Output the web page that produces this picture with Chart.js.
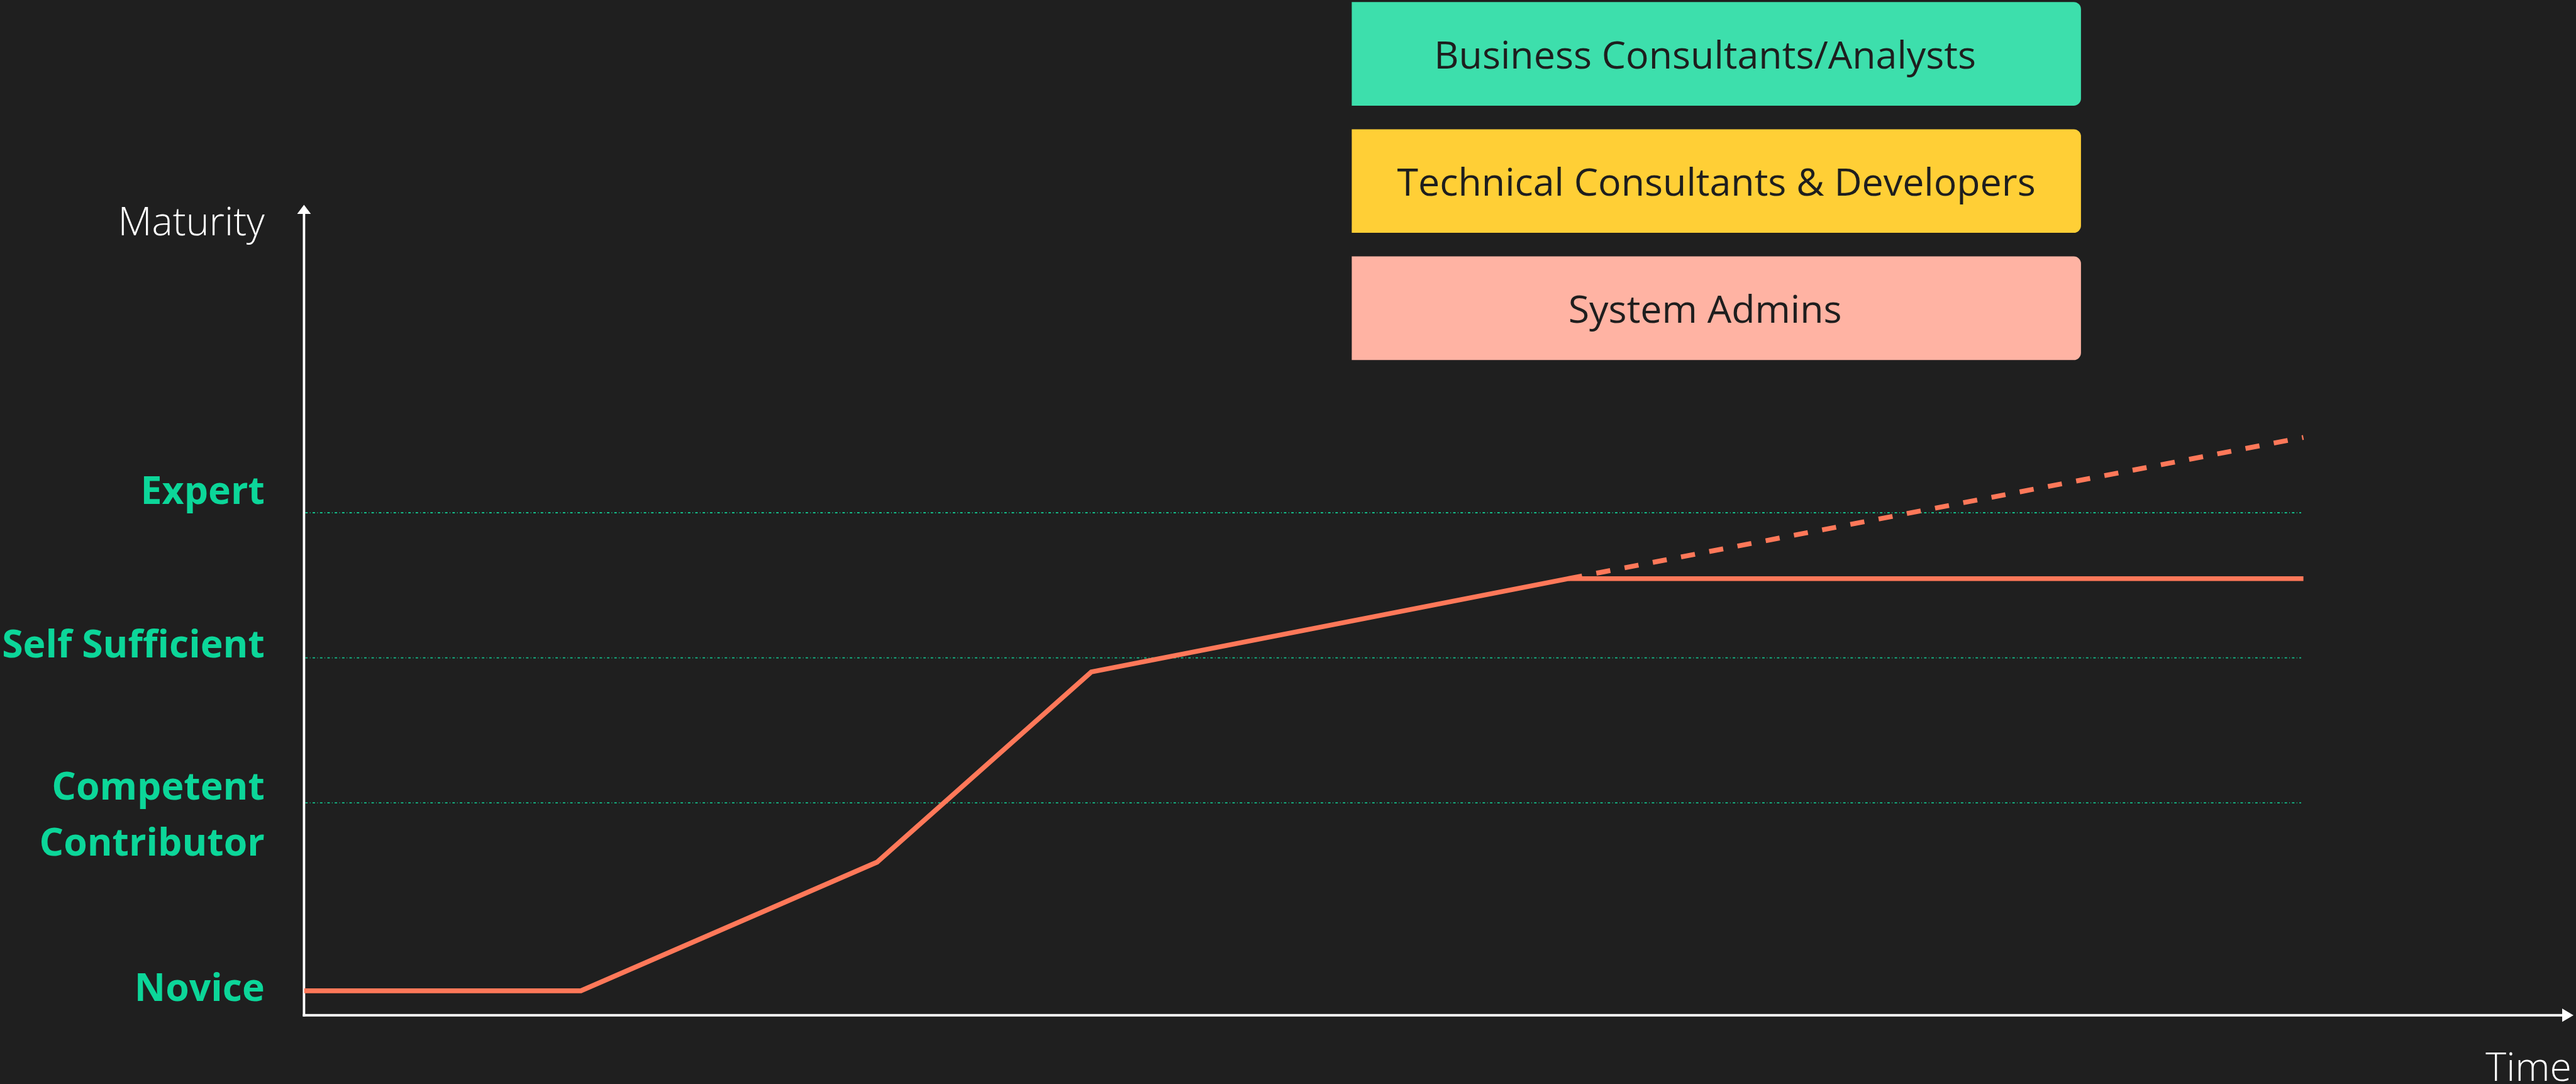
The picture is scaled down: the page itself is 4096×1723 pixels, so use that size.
<!DOCTYPE html>
<html>
<head>
<meta charset="utf-8">
<script src="https://cdn.jsdelivr.net/npm/chart.js@4.4.1/dist/chart.umd.min.js"></script>
<style>
html,body{margin:0;padding:0;background:#1f1f1f;overflow:hidden;}
canvas{display:block;}
</style>
</head>
<body>
<canvas id="c" width="4096" height="1723"></canvas>
<script>
// ---- data (arbitrary units: time 0..100, maturity 0..100) ----
const timeValues      = [0, 12.2, 25.25, 34.69, 55.7, 88.1];
const maturityValues  = [3.02, 3.02, 18.89, 42.36, 53.87, 53.87];
const stretchTime     = [55.7, 88.1];
const stretchMaturity = [53.87, 71.3];

const levelNames          = ['Novice', 'Competent Contributor', 'Self Sufficient', 'Expert'];
const levelLabelLines     = [['Novice'], ['Competent', 'Contributor'], ['Self Sufficient'], ['Expert']];
const levelLabelBaselines = [1.77, 26.6, 44.15, 63.07];
const gridLevelValues     = [26.2, 44.1, 62.0];
const gridEndTime         = 88;

const roleGroups = ['Business Consultants/Analysts', 'Technical Consultants & Developers', 'System Admins'];
const roleColors = ['#3ddfac', '#ffcf36', '#ffb3a3'];

const yAxisTitle = 'Maturity';
const xAxisTitle = 'Time';

// ---- styling ----
const BG = '#1f1f1f';
const LINE = '#ff7859';
const LABEL_GREEN = '#0cd699';
const GRID_GREEN = '#13bf8b';
const FONT = '"Open Sans", "Noto Sans", sans-serif';

function roundRightRect(ctx, x, y, w, h, r) {
  ctx.beginPath();
  ctx.moveTo(x, y);
  ctx.lineTo(x + w - r, y);
  ctx.arcTo(x + w, y, x + w, y + r, r);
  ctx.lineTo(x + w, y + h - r);
  ctx.arcTo(x + w, y + h, x + w - r, y + h, r);
  ctx.lineTo(x, y + h);
  ctx.closePath();
}

const decor = {
  id: 'decor',
  beforeDraw(chart) {
    const ctx = chart.ctx;
    ctx.save();
    ctx.fillStyle = BG;
    ctx.fillRect(0, 0, chart.width, chart.height);
    ctx.restore();
  },
  beforeDatasetsDraw(chart) {
    const {ctx, scales: {x, y}} = chart;
    const x0 = x.getPixelForValue(0);
    const xEnd = x.getPixelForValue(x.max);
    const y0 = y.getPixelForValue(0);
    const yTop = y.getPixelForValue(y.max);

    // level grid lines
    ctx.save();
    ctx.strokeStyle = GRID_GREEN;
    ctx.lineWidth = 1.8;
    ctx.setLineDash([3.9, 3.4, 1, 3.4]);
    gridLevelValues.forEach(v => {
      const py = y.getPixelForValue(v);
      ctx.beginPath();
      ctx.moveTo(x0 + 2, py);
      ctx.lineTo(x.getPixelForValue(gridEndTime), py);
      ctx.stroke();
    });
    ctx.restore();

    // axes with arrows
    ctx.save();
    ctx.strokeStyle = '#ffffff';
    ctx.fillStyle = '#ffffff';
    ctx.lineWidth = 3.85;
    ctx.beginPath();
    ctx.moveTo(x0, y0 + 1.9);
    ctx.lineTo(x0, yTop + 12);
    ctx.stroke();
    ctx.beginPath();
    ctx.moveTo(x0 - 1.9, y0);
    ctx.lineTo(xEnd - 16, y0);
    ctx.stroke();
    // y arrow
    ctx.beginPath();
    ctx.moveTo(x0, yTop);
    ctx.lineTo(x0 + 10.9, yTop + 14.5);
    ctx.lineTo(x0 - 10.9, yTop + 14.5);
    ctx.closePath();
    ctx.fill();
    // x arrow
    ctx.beginPath();
    ctx.moveTo(xEnd, y0);
    ctx.lineTo(xEnd - 18, y0 - 10.6);
    ctx.lineTo(xEnd - 18, y0 + 10.6);
    ctx.closePath();
    ctx.fill();

    // axis titles
    ctx.font = '300 62.6px ' + FONT;
    ctx.textAlign = 'right';
    ctx.textBaseline = 'alphabetic';
    ctx.fillText(yAxisTitle, x0 - 62.6, yTop + 48.1);
    ctx.fillText(xAxisTitle, xEnd - 3, y0 + 104.3);

    // level labels
    ctx.fillStyle = LABEL_GREEN;
    ctx.font = '700 60.7px ' + FONT;
    levelLabelLines.forEach((lines, i) => {
      const by = y.getPixelForValue(levelLabelBaselines[i]);
      lines.forEach((t, k) => ctx.fillText(t, x0 - 62.6, by + k * 88.6));
    });
    ctx.restore();
  },
  afterDraw(chart) {
    const ctx = chart.ctx;
    const bx = 2149.4, bw = 1159.5, bh = 164.7, r = 11.5;
    const tops = [3.2, 205.4, 407.6];
    const textShift = [-18, 0, -18];
    ctx.save();
    roleGroups.forEach((name, i) => {
      ctx.fillStyle = roleColors[i];
      roundRightRect(ctx, bx, tops[i], bw, bh, r);
      ctx.fill();
      ctx.fillStyle = '#1e1e1e';
      ctx.font = '400 60.9px ' + FONT;
      ctx.textAlign = 'center';
      ctx.textBaseline = 'alphabetic';
      ctx.fillText(name, bx + bw / 2 + textShift[i], tops[i] + bh / 2 + 23);
    });
    ctx.restore();
  }
};

function build() {
  new Chart(document.getElementById('c'), {
    type: 'line',
    data: {
      datasets: [
        {
          label: 'Maturity',
          data: timeValues.map((t, i) => ({x: t, y: maturityValues[i]})),
          borderColor: LINE,
          borderWidth: 7.7,
          pointRadius: 0,
          tension: 0,
          fill: false,
          borderJoinStyle: 'miter'
        },
        {
          label: 'Maturity (stretch)',
          data: stretchTime.map((t, i) => ({x: t, y: stretchMaturity[i]})),
          borderColor: LINE,
          borderWidth: 7.7,
          borderDash: [22.6, 23.1],
          pointRadius: 0,
          tension: 0,
          fill: false
        }
      ]
    },
    options: {
      responsive: false,
      animation: false,
      devicePixelRatio: 1,
      events: [],
      layout: {padding: {left: 483.4, top: 325.5, right: 4, bottom: 109.3}},
      scales: {
        x: {type: 'linear', min: 0, max: 100, display: false},
        y: {type: 'linear', min: 0, max: 100, display: false}
      },
      plugins: {legend: {display: false}, tooltip: {enabled: false}, title: {display: false}}
    },
    plugins: [decor]
  });
}

const loads = ['300 62px "Open Sans"', '400 62px "Open Sans"', '700 60px "Open Sans"']
  .map(f => document.fonts.load(f).catch(() => null));
Promise.all(loads).then(build, build);
</script>
</body>
</html>
